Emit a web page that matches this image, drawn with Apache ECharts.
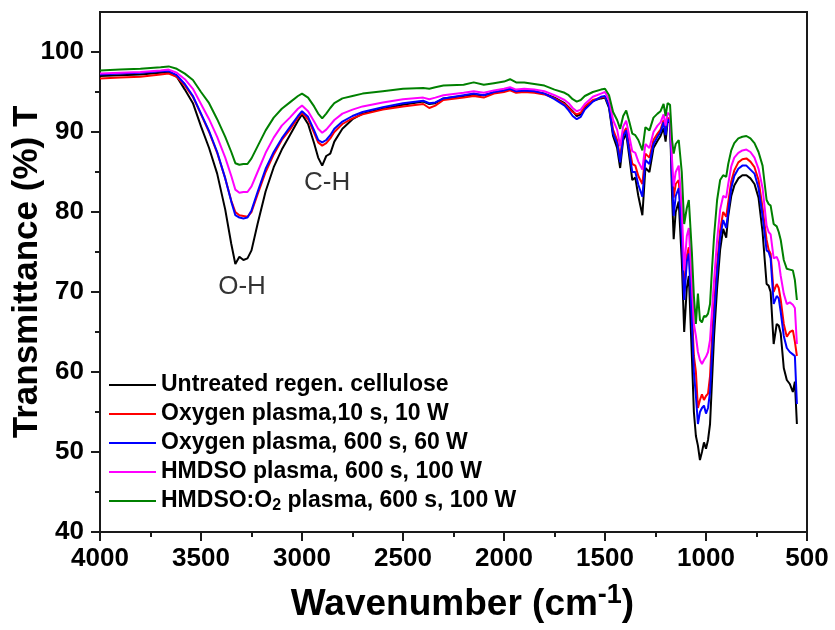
<!DOCTYPE html>
<html>
<head>
<meta charset="utf-8">
<script src="https://cdn.jsdelivr.net/npm/echarts@6/dist/echarts.min.js"></script>
<style>
  html, body { margin: 0; padding: 0; background: #fff; }
  #chart { width: 835px; height: 630px; }
</style>
</head>
<body>
<div id="chart"></div>
<script>
// wavenumbers (cm-1), shared by every spectrum
const wavenumber = [
  4000, 3900, 3800, 3700, 3660, 3620, 3580, 3540, 3500, 3460,
  3420, 3380, 3350, 3330, 3310, 3290, 3270, 3250, 3220, 3180,
  3140, 3100, 3060, 3020, 3000, 2970, 2940, 2920, 2900, 2880,
  2860, 2840, 2800, 2750, 2700, 2600, 2500, 2400, 2370, 2340,
  2300, 2200, 2150, 2100, 2050, 2000, 1970, 1940, 1900, 1850,
  1800, 1750, 1700, 1680, 1660, 1640, 1620, 1600, 1560, 1520,
  1500, 1480, 1460, 1440, 1425, 1410, 1395, 1380, 1365, 1350,
  1335, 1315, 1300, 1280, 1260, 1240, 1225, 1210, 1200, 1190,
  1178, 1168, 1160, 1150, 1135, 1120, 1108, 1095, 1085, 1070,
  1060, 1050, 1040, 1030, 1020, 1010, 1000, 990, 980, 970,
  960, 945, 930, 915, 900, 890, 875, 860, 840, 820,
  800, 780, 760, 740, 720, 700, 690, 680, 665, 650,
  640, 630, 615, 600, 585, 570, 560, 550,
];

const untreated = [
  97.0, 97.1, 97.2, 97.4, 97.5, 96.9, 95.3, 93.6, 90.7, 88.0,
  84.8, 80.3, 76.0, 73.5, 74.4, 74.0, 74.2, 75.2, 78.5, 82.6,
  85.6, 87.8, 89.6, 91.4, 92.2, 91.0, 88.6, 86.8, 85.8, 87.0,
  87.3, 88.8, 90.4, 91.6, 92.3, 92.9, 93.4, 93.8, 93.5, 93.6,
  94.2, 94.5, 94.7, 94.6, 94.9, 95.2, 95.4, 95.0, 95.1, 95.1,
  94.8, 94.3, 93.6, 93.1, 92.6, 92.0, 92.2, 93.0, 93.9, 94.2,
  94.3, 93.0, 89.5, 88.0, 85.5, 89.0, 89.8, 87.0, 84.0, 84.3,
  82.0, 79.6, 85.5, 85.0, 88.0, 88.9, 89.5, 90.5, 88.8, 91.3,
  91.2, 82.0, 76.6, 80.0, 81.3, 74.0, 65.0, 70.5, 72.0, 62.0,
  55.0, 52.0, 50.8, 49.0, 50.0, 51.2, 50.4, 51.5, 53.5, 59.0,
  64.5, 70.5, 75.3, 77.9, 76.8, 79.5, 82.0, 83.3, 84.2, 84.6,
  84.6, 84.2, 83.5, 81.8, 77.5, 71.0, 70.8, 70.0, 63.5, 66.0,
  65.8, 64.8, 60.5, 59.0, 58.5, 57.5, 58.8, 53.5,
];

const oxygen10s = [
  96.7, 96.8, 96.9, 97.2, 97.3, 96.9, 95.8, 94.4, 92.2, 90.0,
  87.4, 84.2, 81.4, 80.0, 79.6, 79.5, 79.4, 80.0, 82.2, 85.0,
  87.2, 89.0, 90.3, 91.8, 92.4, 91.6, 89.9, 88.7, 88.3, 88.6,
  89.2, 90.0, 91.0, 91.7, 92.2, 92.8, 93.2, 93.5, 93.0, 93.3,
  94.0, 94.3, 94.5, 94.3, 94.8, 95.0, 95.2, 94.9, 95.0, 94.9,
  94.7, 94.2, 93.5, 93.0, 92.5, 92.2, 92.4, 93.2, 94.0, 94.3,
  94.4, 93.4, 90.3, 89.0, 86.8, 89.8, 90.5, 88.2, 86.0, 85.8,
  84.5, 83.5, 87.3, 86.8, 89.0, 89.8, 90.3, 91.5, 90.0, 91.8,
  91.5, 85.0, 81.8, 83.5, 84.0, 78.0, 70.0, 74.5, 75.6, 68.0,
  62.0, 60.0, 55.5, 56.5, 57.2, 56.5, 57.0, 57.3, 59.5, 64.5,
  68.5, 73.5, 77.7, 80.0, 79.4, 81.2, 83.8, 85.2, 86.2, 86.6,
  86.7, 86.3, 85.6, 84.0, 80.5, 76.5, 75.3, 74.8, 70.0, 71.0,
  70.5, 69.0, 66.0, 64.4, 65.0, 65.2, 63.8, 62.0,
];

const oxygen600s = [
  97.2, 97.3, 97.4, 97.6, 97.6, 97.1, 96.0, 94.5, 92.3, 90.1,
  87.5, 84.2, 81.3, 79.6, 79.3, 79.2, 79.3, 80.2, 82.5, 85.4,
  87.5, 89.2, 90.6, 92.0, 92.6, 91.9, 90.2, 89.0, 88.7, 89.0,
  89.6, 90.4, 91.3, 92.0, 92.5, 93.1, 93.6, 93.9, 93.6, 93.7,
  94.2, 94.6, 94.8, 94.6, 95.0, 95.2, 95.4, 95.1, 95.2, 95.1,
  94.8, 94.1, 93.3, 92.7, 92.0, 91.6, 91.9, 92.8, 93.8, 94.4,
  94.5, 93.2, 89.8, 88.6, 86.2, 89.5, 90.2, 87.6, 85.0, 85.0,
  83.4, 81.9, 86.5, 86.0, 88.5, 89.4, 90.0, 91.2, 89.6, 91.6,
  91.2, 84.0, 79.5, 82.0, 83.0, 77.0, 69.0, 73.8, 74.8, 66.5,
  60.0, 57.0, 53.5, 55.0, 55.5, 55.8, 54.8, 55.5, 57.5, 62.5,
  67.0, 72.5, 76.8, 79.0, 78.0, 80.0, 83.0, 84.5, 85.4, 85.8,
  85.8, 85.3, 84.8, 83.0, 79.5, 75.2, 75.0, 74.2, 68.5, 69.5,
  69.2, 67.5, 64.5, 63.0, 62.5, 62.2, 62.0, 56.0,
];

const hmdso = [
  97.3, 97.4, 97.5, 97.7, 97.8, 97.4, 96.6, 95.4, 93.5, 91.6,
  89.4, 86.8, 84.5, 82.8, 82.4, 82.5, 82.5, 83.2, 85.0, 87.4,
  89.3, 90.8, 91.8, 92.9, 93.3, 92.6, 91.3, 90.4, 89.9, 90.3,
  90.9, 91.5, 92.3, 92.8, 93.2, 93.7, 94.1, 94.3, 94.1, 94.3,
  94.6, 94.9, 95.1, 94.9, 95.2, 95.4, 95.6, 95.3, 95.4, 95.3,
  95.1, 94.6, 94.0, 93.6, 93.0, 92.6, 92.8, 93.5, 94.4, 94.8,
  95.0, 94.0, 91.5, 90.3, 88.2, 90.7, 91.4, 89.5, 87.6, 87.4,
  86.3, 85.3, 88.5, 88.0, 90.0, 90.8, 91.2, 92.2, 90.8, 92.4,
  92.1, 86.5, 83.2, 85.0, 85.8, 80.5, 72.7, 77.0, 78.0, 71.0,
  66.0, 64.5, 62.5, 61.5, 61.0, 61.5, 61.9, 62.5, 64.0, 67.8,
  71.5, 76.5, 80.3, 82.0, 81.8, 83.5, 85.7, 86.8, 87.4, 87.7,
  87.8, 87.5, 86.8, 85.4, 83.0, 78.3, 77.5, 77.2, 74.2, 74.4,
  73.8, 72.0, 69.8, 68.5, 68.7, 68.4, 68.0, 63.5,
];

const hmdsoO2 = [
  97.7, 97.8, 97.9, 98.1, 98.2, 97.9, 97.3, 96.5, 95.0, 93.6,
  91.6, 89.4, 87.5, 86.1, 85.9, 86.0, 86.0, 86.7, 88.2, 90.2,
  91.8, 92.9, 93.7, 94.5, 94.8, 94.3, 93.2, 92.3, 91.7, 92.3,
  93.0, 93.6, 94.2, 94.5, 94.8, 95.1, 95.4, 95.5, 95.4, 95.6,
  95.8, 95.9, 96.2, 95.9, 96.1, 96.3, 96.6, 96.2, 96.2, 96.0,
  95.8, 95.3, 94.9, 94.6, 94.1, 93.8, 94.0, 94.5, 95.0, 95.3,
  95.4, 94.6, 92.5, 91.5, 90.4, 92.0, 92.7, 91.3, 89.8, 89.6,
  89.0, 87.7, 90.6, 90.2, 91.8, 92.3, 92.6, 93.5, 92.0, 93.6,
  93.4, 89.0, 87.3, 88.5, 89.0, 85.0, 78.5, 80.5, 81.5, 75.0,
  69.5, 66.0, 69.8, 66.5, 66.2, 67.0, 66.9, 67.3, 68.5, 73.0,
  77.0, 81.5, 84.0, 84.6, 84.4, 86.0, 87.7, 88.6, 89.2, 89.4,
  89.5, 89.2, 88.6, 87.5, 85.8, 81.5, 81.0, 80.8, 78.5, 78.2,
  77.5, 76.5, 74.0, 72.9, 72.8, 72.7, 71.5, 69.0,
];

const seriesNames = [
  "Untreated regen. cellulose",
  "Oxygen plasma,10 s, 10 W",
  "Oxygen plasma, 600 s, 60 W",
  "HMDSO plasma, 600 s, 100 W",
  "HMDSO:O2 plasma, 600 s, 100 W",
];
const seriesValues = [untreated, oxygen10s, oxygen600s, hmdso, hmdsoO2];
const seriesColors = ["#000000", "#ff0000", "#0000ff", "#ff00ff", "#008000"];

// band labels placed at (wavenumber, transmittance)
const peakLabels = ["O-H", "C-H"];
const peakWavenumber = [3297, 2876];
const peakT = [70.6, 83.6];

const yMajorTicks = [40, 50, 60, 70, 80, 90, 100];
const yMinorTicks = [45, 55, 65, 75, 85, 95];

const FONT = "Liberation Sans, Arial, sans-serif";
const chart = echarts.init(document.getElementById("chart"));

const lineSeries = seriesNames.map((name, i) => ({
  name,
  type: "line",
  symbol: "none",
  data: wavenumber.map((w, k) => [w, seriesValues[i][k]]),
  lineStyle: { color: seriesColors[i], width: 2 },
  itemStyle: { color: seriesColors[i] },
}));

chart.setOption({
  animation: false,
  grid: {
    left: 100,
    right: 28,
    top: 12,
    bottom: 98,
    outerBoundsMode: "none",
    show: true,
    borderColor: "#1a1a1a",
    borderWidth: 2,
  },
  legend: {
    data: seriesNames,
    orient: "vertical",
    left: 104,
    top: 368,
    icon: "rect",
    itemWidth: 47,
    itemHeight: 2,
    itemGap: 5,
    formatter(name) {
      return name === "HMDSO:O2 plasma, 600 s, 100 W"
        ? "HMDSO:O{sub|2} plasma, 600 s, 100 W"
        : name;
    },
    textStyle: {
      fontFamily: FONT,
      fontSize: 23,
      fontWeight: "bold",
      color: "#000",
      lineHeight: 24,
      rich: {
        sub: { fontFamily: FONT, fontSize: 16, fontWeight: "bold", padding: [10, 0, 0, 0] },
      },
    },
  },
  xAxis: {
    type: "value",
    inverse: true,
    min: 500,
    max: 4000,
    interval: 500,
    name: "Wavenumber (cm{sup|-1})",
    nameLocation: "middle",
    nameGap: 50,
    nameTextStyle: {
      fontFamily: FONT,
      fontSize: 37,
      fontWeight: "bold",
      color: "#000",
      padding: [0, 0, 0, 18],
      rich: {
        sup: { fontFamily: FONT, fontSize: 27, fontWeight: "bold", padding: [0, 0, 18, 0] },
      },
    },
    axisLine: { lineStyle: { color: "#1a1a1a", width: 2 } },
    axisTick: { length: 9, lineStyle: { width: 2, color: "#1a1a1a" } },
    minorTick: { show: true, splitNumber: 2, length: 5, lineStyle: { width: 2, color: "#1a1a1a" } },
    axisLabel: {
      margin: 14,
      formatter: (v) => String(v),
      fontFamily: FONT,
      fontSize: 26,
      fontWeight: "bold",
      color: "#000",
    },
    splitLine: { show: false },
  },
  yAxis: [
    {
      type: "value",
      min: 40,
      max: 105,
      interval: 10,
      name: "Transmittance (%) T",
      nameLocation: "middle",
      nameGap: 55,
      nameMoveOverlap: false,
      nameTextStyle: { fontFamily: FONT, fontSize: 35, fontWeight: "bold", color: "#000" },
      axisLine: { show: true, lineStyle: { color: "#1a1a1a", width: 2 } },
      axisTick: { length: 9, customValues: yMajorTicks, lineStyle: { width: 2, color: "#1a1a1a" } },
      axisLabel: { margin: 16, customValues: yMajorTicks, fontFamily: FONT, fontSize: 26, fontWeight: "bold", color: "#000" },
      splitLine: { show: false },
    },
    {
      type: "value",
      min: 40,
      max: 105,
      position: "left",
      axisLine: { show: false },
      axisTick: { length: 5, customValues: yMinorTicks, lineStyle: { width: 2, color: "#1a1a1a" } },
      axisLabel: { show: false },
      splitLine: { show: false },
    },
  ],
  series: [
    ...lineSeries,
    {
      name: "bands",
      type: "scatter",
      symbolSize: 0,
      data: peakWavenumber.map((w, i) => [w, peakT[i]]),
      label: {
        show: true,
        position: "inside",
        formatter: (p) => peakLabels[p.dataIndex],
        fontFamily: FONT,
        fontSize: 26,
        color: "#000",
      },
    },
  ],
});
</script>
</body>
</html>
